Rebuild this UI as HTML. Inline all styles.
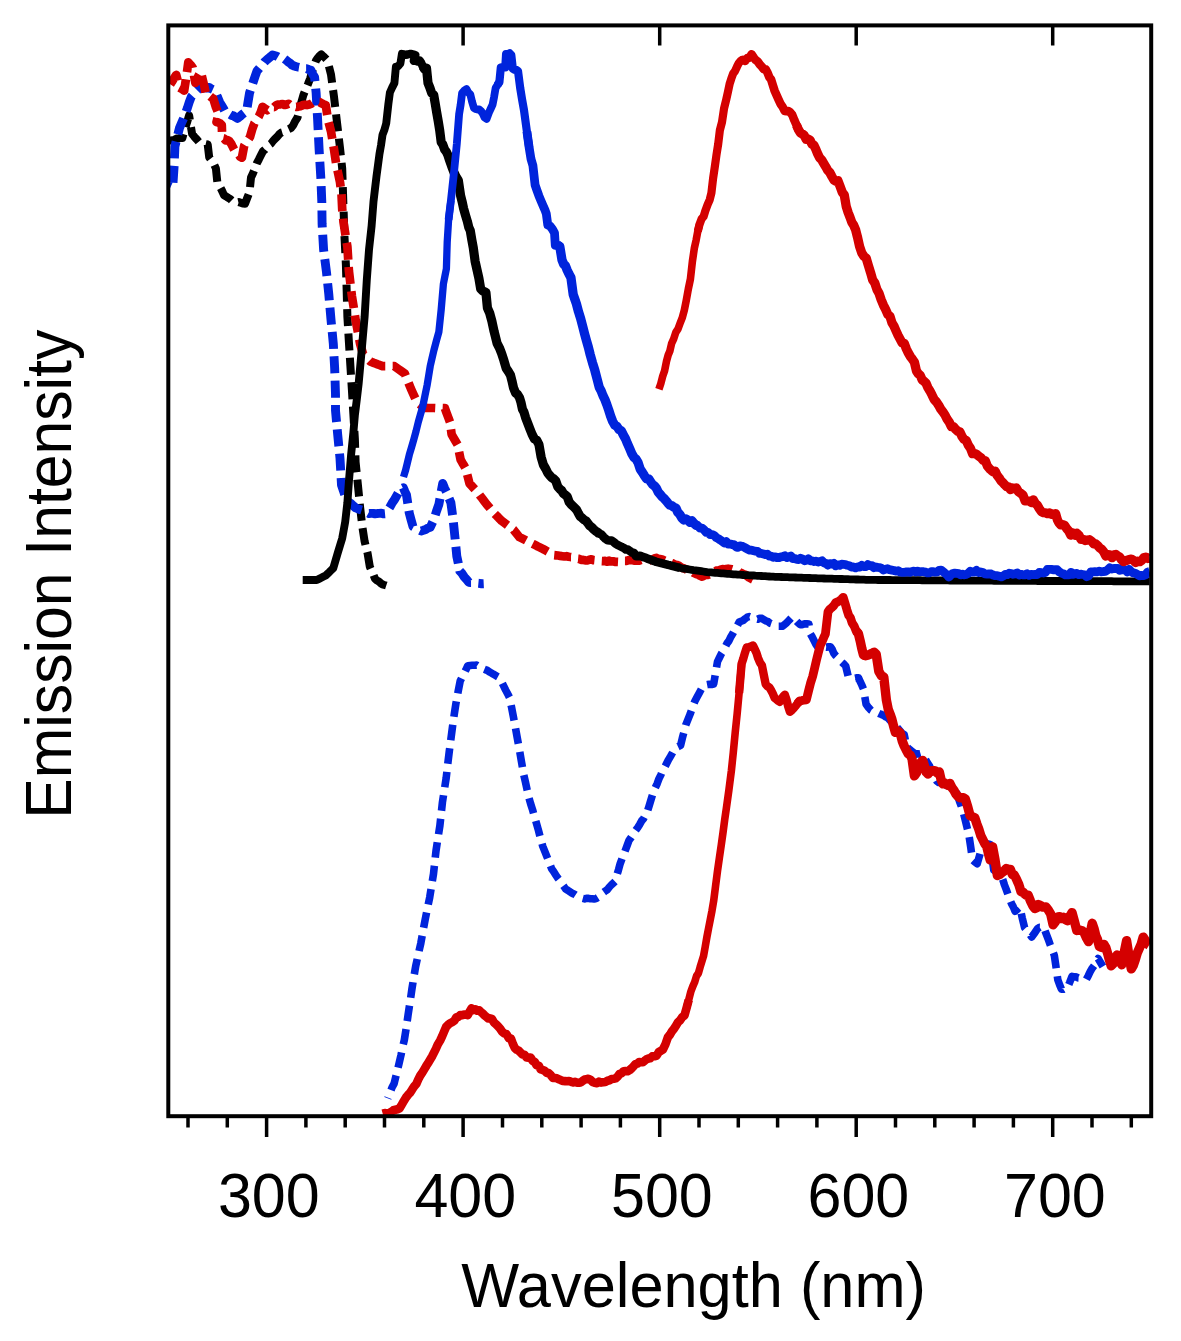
<!DOCTYPE html>
<html><head><meta charset="utf-8"><title>Emission spectra</title>
<style>html,body{margin:0;padding:0;background:#fff}svg{display:block}</style></head>
<body>
<svg width="1181" height="1341" viewBox="0 0 1181 1341">
<rect width="1181" height="1341" fill="#fff"/>
<defs><clipPath id="plot"><rect x="168.3" y="25.4" width="982.9" height="1090.8"/></clipPath></defs>
<g fill="none" stroke-linejoin="round" clip-path="url(#plot)">
<path d="M168.3 140.4 L170.3 140.4 L172.3 140.3 L174.3 139.8 L176.4 138.6 L178.4 138.5 L180.4 137.8 L182.4 137.9 L184.6 129.8 L186.9 122.8 L189.1 115.3 L190.6 125.0 L192.1 133.8 L194.3 136.7 L196.6 139.2 L198.8 141.8 L201.0 143.1 L203.2 143.4 L205.5 144.0 L207.7 144.5 L209.2 157.4 L211.4 160.3 L213.7 163.7 L215.9 168.4 L217.4 182.9 L219.6 186.2 L221.9 190.5 L224.1 195.3 L226.2 196.5 L228.3 197.9 L230.4 199.2 L232.5 201.2 L234.6 202.4 L236.7 202.6 L238.8 202.1 L240.8 202.8 L242.9 203.6 L245.0 203.7 L247.2 198.0 L249.5 192.2 L251.0 177.5 L253.0 173.3 L254.9 168.6 L256.9 163.1 L258.9 159.3 L260.9 155.2 L262.9 151.3 L264.9 149.6 L266.9 147.1 L268.9 145.1 L271.0 143.6 L273.1 140.9 L275.1 138.7 L277.2 136.8 L279.3 134.2 L281.3 132.6 L283.3 132.0 L285.2 131.5 L287.2 129.7 L289.2 128.8 L291.2 127.8 L293.3 125.1 L295.4 120.8 L297.5 117.5 L299.5 109.6 L301.4 102.0 L303.4 95.0 L305.6 89.6 L307.9 84.3 L310.1 78.6 L312.1 71.7 L314.1 66.0 L316.1 60.3 L317.8 58.0 L319.6 55.8 L321.3 54.4 L323.3 56.3 L325.3 58.1 L327.3 60.3 L329.1 67.1 L331.0 74.5 L332.5 85.8 L334.0 96.8 L335.5 109.6 L337.0 122.4 L338.5 135.2 L340.0 147.9 L342.2 168.5 L342.9 189.4 L343.7 213.4 L344.4 235.0 L345.9 264.9 L346.7 291.7 L347.4 316.9 L348.9 342.1 L350.4 366.0 L351.9 389.7 L353.4 414.6 L354.9 439.5 L355.6 462.2 L357.9 484.9 L360.1 507.1 L362.3 526.4 L364.6 541.3 L366.1 547.4 L367.6 553.4 L369.8 566.7 L371.5 570.6 L373.3 574.5 L375.0 578.8 L376.9 580.4 L378.8 581.5 L380.6 583.1 L382.5 584.4 L384.4 585.0 L386.2 585.5 L388.0 586.1 L389.9 586.6" stroke="#000000" stroke-width="8.0" stroke-dasharray="17 7.4" stroke-dashoffset="-1.5"/>
<path d="M168.3 186.0 L170.5 186.9 L172.7 187.9 L174.2 164.8 L174.9 146.5 L177.2 137.0 L179.4 128.3 L181.4 123.4 L183.4 118.7 L185.4 113.5 L187.4 108.0 L189.3 102.0 L191.3 96.7 L193.2 94.6 L195.1 92.4 L196.9 90.8 L198.8 88.9 L200.9 88.2 L203.0 88.2 L205.0 87.7 L207.1 88.0 L209.2 87.4 L211.2 88.8 L213.2 89.7 L215.2 91.1 L217.4 96.8 L219.7 102.3 L221.7 105.5 L223.6 108.7 L225.6 112.8 L227.6 113.5 L229.6 114.2 L231.6 115.4 L233.6 115.9 L235.6 117.2 L237.6 118.4 L239.8 116.6 L242.1 114.5 L244.3 112.8 L246.5 111.7 L248.0 102.3 L249.5 93.2 L251.3 87.6 L253.2 82.0 L255.0 76.6 L256.9 71.2 L258.8 68.9 L260.6 66.8 L262.5 64.7 L264.4 62.1 L266.4 60.2 L268.4 58.5 L270.5 56.8 L272.5 54.9 L274.5 55.6 L276.4 56.0 L278.4 57.2 L280.3 57.2 L282.3 57.1 L284.3 58.8 L286.3 60.3 L288.2 62.0 L290.2 63.3 L292.2 65.2 L294.2 66.0 L296.5 66.7 L298.9 67.3 L300.9 67.6 L302.9 67.6 L304.9 68.7 L306.9 68.7 L308.9 69.6 L310.9 70.3 L312.8 74.2 L314.6 77.3 L316.1 92.6 L317.6 119.3 L319.1 149.3 L320.9 179.0 L321.8 202.0 L322.1 224.0 L323.6 249.8 L326.5 272.3 L328.8 294.3 L331.0 319.6 L333.3 343.6 L334.7 369.1 L335.5 394.4 L335.5 410.4 L337.7 434.6 L340.0 458.4 L341.5 485.0 L343.2 490.0 L345.0 495.3 L346.7 500.4 L348.9 502.2 L351.1 503.7 L353.4 505.9 L355.6 507.9 L357.5 508.6 L359.4 509.4 L361.3 509.9 L363.3 510.5 L365.2 511.3 L367.1 512.5 L369.0 513.5 L371.1 513.4 L373.1 513.4 L375.1 513.9 L377.2 513.5 L379.2 513.4 L381.3 513.2 L383.3 513.9 L385.4 513.7 L387.6 510.5 L389.9 507.0 L392.1 503.1 L394.4 499.7 L396.4 496.2 L398.4 492.7 L400.4 489.2 L403.3 487.8 L404.9 491.6 L406.5 495.0 L409.3 513.2 L411.1 519.9 L413.0 526.6 L415.1 527.8 L417.1 528.9 L419.1 530.0 L421.2 531.0 L423.4 530.3 L425.7 529.5 L427.9 528.1 L430.2 527.3 L432.1 523.3 L434.0 519.2 L436.4 511.5 L438.9 504.3 L440.8 493.9 L442.7 483.5 L444.5 488.0 L446.4 491.7 L448.6 497.3 L450.9 502.8 L453.1 519.2 L455.4 541.5 L456.8 556.3 L458.3 563.3 L459.8 571.1 L462.1 573.6 L464.3 577.0 L466.6 579.5 L468.8 582.3 L470.9 582.6 L473.1 582.6 L475.2 583.0 L477.3 583.2 L479.4 583.4 L481.6 583.8 L483.7 583.7" stroke="#0024dc" stroke-width="8.9" stroke-dasharray="17 7.4" stroke-dashoffset="14.5"/>
<path d="M168.3 86.0 L169.9 84.9 L172.0 81.7 L174.1 78.1 L176.2 74.9 L177.8 81.0 L179.3 87.7 L181.8 89.0 L184.2 90.6 L186.5 75.6 L188.3 62.3 L190.5 64.8 L192.7 67.6 L195.4 82.9 L197.2 78.5 L199.0 74.8 L200.8 71.8 L202.6 79.3 L204.4 86.5 L206.1 95.4 L207.9 95.4 L209.7 96.0 L211.5 97.5 L213.3 98.7 L216.0 107.4 L218.7 113.9 L216.5 122.1 L218.3 122.5 L220.0 123.4 L221.8 125.2 L222.2 138.1 L224.0 138.5 L225.8 140.4 L227.6 140.0 L229.4 141.2 L231.2 143.8 L233.0 147.4 L234.8 150.7 L236.6 152.2 L238.4 154.3 L240.1 156.7 L241.9 157.7 L244.2 145.7 L246.1 142.6 L248.1 140.0 L250.0 137.0 L252.2 129.2 L254.4 123.2 L256.6 120.0 L258.9 116.3 L260.7 112.3 L262.5 106.8 L264.9 108.5 L267.4 110.2 L269.6 108.4 L271.9 107.0 L274.1 107.1 L276.3 105.1 L278.4 104.5 L280.5 104.3 L282.6 104.0 L284.7 105.0 L286.8 104.5 L288.6 103.8 L290.5 105.5 L292.4 106.2 L294.2 106.2 L296.3 106.9 L298.5 106.6 L300.6 106.2 L302.8 105.1 L304.9 104.7 L307.0 105.1 L309.2 104.6 L311.3 103.7 L313.4 102.3 L315.5 102.4 L317.7 102.1 L319.8 102.2 L321.8 103.4 L323.8 104.5 L325.8 105.1 L328.0 120.0 L329.5 125.5 L331.0 131.4 L332.5 140.4 L334.0 149.3 L336.2 164.2 L338.1 173.1 L340.0 182.1 L341.5 194.0 L342.2 209.0 L343.5 222.0 L345.4 234.4 L347.4 246.8 L348.9 270.7 L350.4 283.4 L351.9 296.1 L353.8 308.0 L355.6 319.9 L357.9 331.9 L360.1 343.8 L361.6 349.0 L363.1 354.2 L365.0 356.1 L366.8 357.9 L368.6 359.8 L370.5 361.7 L372.5 362.4 L374.5 363.2 L376.5 363.9 L378.5 364.7 L380.5 365.4 L382.5 366.2 L384.5 366.2 L386.5 366.2 L388.4 366.2 L390.4 366.2 L392.4 366.2 L394.4 366.2 L396.5 367.7 L398.6 369.2 L400.6 370.6 L402.7 372.1 L404.8 373.6 L406.8 378.6 L408.8 383.5 L410.8 388.5 L412.8 393.0 L414.8 397.4 L416.8 401.9 L418.6 403.4 L420.5 404.9 L422.4 406.4 L424.2 407.9 L426.3 407.9 L428.3 408.0 L430.4 408.0 L432.5 408.0 L434.5 408.0 L436.6 408.1 L438.7 408.1 L440.8 408.1 L442.8 408.2 L444.9 408.2 L446.6 412.9 L448.4 417.7 L450.1 422.4 L451.6 434.3 L453.6 437.8 L455.6 441.2 L457.6 444.7 L459.1 452.2 L460.6 459.7 L462.3 462.7 L464.1 465.6 L465.8 468.6 L467.6 476.1 L469.5 483.5 L471.6 485.8 L473.6 488.0 L475.6 490.2 L477.7 492.5 L479.9 495.5 L482.2 498.4 L484.4 501.4 L486.7 504.4 L488.6 506.6 L490.4 508.8 L492.2 511.1 L494.1 513.3 L496.0 515.2 L497.9 517.0 L499.7 518.9 L501.6 520.8 L503.6 522.3 L505.6 523.8 L507.6 525.3 L509.5 526.8 L511.5 528.3 L513.5 529.8 L515.5 532.3 L517.5 534.7 L519.5 537.2 L521.5 538.2 L523.5 539.2 L525.5 540.2 L527.4 541.2 L529.4 542.2 L531.4 543.2 L533.4 544.2 L535.4 545.2 L537.3 546.2 L539.3 547.1 L541.3 548.1 L543.3 549.1 L545.4 550.3 L547.5 551.5 L549.6 552.7 L551.7 553.9 L553.8 555.1 L555.9 555.3 L558.1 555.5 L560.2 555.9 L562.3 556.2 L564.4 556.5 L566.6 556.2 L568.7 556.7 L570.8 557.1 L572.9 557.1 L574.9 557.8 L577.0 558.7 L579.1 558.9 L581.1 559.8 L583.2 559.9 L585.2 560.3 L587.2 560.5 L589.3 559.7 L591.3 559.3 L593.4 560.1 L595.4 560.3 L597.4 560.3 L599.3 560.9 L601.3 561.1 L603.2 561.2 L605.2 560.9 L607.1 561.7 L609.1 560.6 L611.0 561.5 L613.0 561.3 L614.9 561.8 L616.9 561.9 L618.8 562.0 L620.8 562.6 L622.8 561.9 L624.9 560.8 L626.9 560.8 L628.9 560.0 L631.0 560.2 L633.0 560.2 L635.0 560.7 L637.0 560.5 L639.1 560.7 L641.1 560.0 L643.0 560.1 L644.9 559.8 L646.8 560.0 L648.8 560.5 L650.7 560.0 L652.6 559.6 L654.5 558.5 L656.4 557.9 L658.4 559.4 L660.5 559.0 L662.5 559.7 L664.5 560.7 L666.5 561.7 L668.6 561.9 L670.6 562.6 L672.6 563.4 L674.7 564.5 L676.7 564.9 L678.6 565.6 L680.5 567.0 L682.4 568.1 L684.3 568.5 L686.2 569.5 L688.1 570.3 L690.0 571.2 L691.9 571.4 L693.9 572.9 L696.0 574.0 L698.0 574.5 L700.1 575.8 L702.1 576.6 L704.1 575.6 L706.1 574.7 L708.2 574.8 L710.2 573.9 L712.2 572.1 L714.2 571.9 L716.3 570.7 L718.3 570.5 L720.4 569.7 L722.4 569.2 L724.3 569.4 L726.2 569.0 L728.1 568.7 L730.0 569.0 L731.9 569.3 L733.8 569.9 L735.7 570.8 L737.6 570.5 L739.5 572.2 L741.4 573.1 L743.3 574.2 L745.2 574.7 L747.2 576.0 L749.1 577.5 L751.0 578.6 L752.9 579.5" stroke="#d40000" stroke-width="8.7" stroke-dasharray="17 7.4" stroke-dashoffset="-2.6"/>
<path d="M302.7 580.0 L304.7 580.0 L306.7 580.0 L308.7 580.0 L310.8 580.0 L312.8 580.0 L314.8 580.0 L316.8 580.0 L319.1 578.9 L321.3 577.8 L323.6 576.6 L325.8 575.5 L327.7 573.6 L329.6 571.8 L331.4 570.0 L333.3 568.1 L335.5 560.7 L337.7 553.2 L339.9 545.8 L342.2 538.3 L343.7 530.1 L345.2 521.9 L347.4 502.5 L348.9 481.6 L351.1 454.7 L353.4 432.4 L354.9 415.0 L356.8 399.6 L358.6 384.1 L360.1 367.6 L361.6 351.2 L363.1 334.0 L364.6 316.9 L366.8 279.7 L369.0 249.8 L371.6 226.0 L373.5 201.5 L375.0 188.8 L376.5 176.2 L378.0 165.0 L379.5 153.8 L381.0 145.4 L382.5 134.9 L384.4 129.8 L386.2 123.5 L388.4 103.7 L389.9 92.5 L392.1 87.6 L394.4 83.1 L395.9 66.6 L398.1 66.3 L400.4 63.5 L401.9 53.8 L403.8 54.6" stroke="#000000" stroke-width="7.9"/>
<path d="M401.9 53.8 L403.8 54.6 L405.7 54.7 L407.6 54.5 L409.6 54.0 L411.5 54.0 L413.4 54.5 L415.3 55.2 L413.8 60.9 L415.8 60.8 L417.7 61.5 L419.7 60.6 L421.2 62.9 L422.7 66.3 L424.6 69.2" stroke="#000000" stroke-width="8.4"/>
<path d="M422.7 66.3 L424.6 69.2 L426.5 68.1 L428.0 83.0 L429.9 87.7 L431.7 93.1 L433.7 94.9 L435.2 103.5 L436.7 112.6 L438.2 121.0 L439.7 130.2 L441.2 142.2 L442.9 144.7 L444.7 149.7 L446.4 151.8 L447.9 155.1 L449.4 159.7 L451.6 166.1 L453.9 172.2 L456.1 176.9 L458.3 180.2 L460.6 195.6 L462.1 201.6 L463.6 208.5 L465.5 215.2 L467.3 221.2 L468.8 227.3 L470.3 230.7 L471.8 239.8 L473.3 247.8 L475.1 261.2 L477.0 269.8 L478.9 278.2 L480.7 288.9 L482.4 290.7 L484.2 291.7 L485.9 292.3 L487.4 307.8 L489.6 312.8 L491.9 321.3 L494.1 331.4 L495.6 337.4 L497.1 343.3 L499.4 347.8 L501.6 353.4 L503.9 360.4 L506.1 368.1 L508.3 371.4 L510.5 375.1 L512.0 381.1 L513.5 387.8 L515.5 392.8 L517.5 394.4 L519.5 397.6 L521.0 402.5 L522.5 409.4 L524.0 412.2 L525.5 417.3 L527.7 423.1 L529.9 428.9 L532.1 434.4 L534.4 438.9 L536.6 440.0 L538.9 444.3 L541.1 456.9 L543.3 464.6 L545.6 468.6 L547.8 473.1 L549.8 475.5 L551.8 477.8 L553.8 478.9 L555.8 481.0 L557.8 486.8 L559.8 489.1 L561.6 490.5 L563.5 493.6 L565.4 495.0 L567.2 496.5 L569.2 502.1 L571.2 504.5 L573.2 506.3 L575.0 508.2 L576.7 510.0 L578.5 513.5 L580.2 516.5 L582.1 517.9 L584.0 519.8 L585.9 520.8 L587.8 523.1 L589.7 525.7 L591.6 527.1 L593.5 529.2 L595.4 530.8 L597.4 532.1 L599.5 533.8" stroke="#000000" stroke-width="9.2"/>
<path d="M597.4 532.1 L599.5 533.8 L601.5 534.6 L603.5 536.9 L605.5 538.8 L607.6 540.3 L609.6 540.5 L611.6 540.6 L613.7 542.0 L615.7 543.8 L617.7 544.9 L619.8 546.0 L621.8 547.1 L623.8 547.9 L625.9 549.5 L627.9 549.5 L629.9 551.1 L631.9 552.5 L634.0 553.0 L636.0 556.3 L638.0 556.3 L640.1 555.8 L642.1 556.6 L644.2 557.3 L646.2 558.1 L648.2 558.9 L650.3 559.6 L652.3 560.4 L654.4 561.1 L656.4 561.9 L658.4 562.4 L660.3 562.9 L662.3 563.4 L664.2 563.9 L666.2 564.4 L668.1 564.9 L670.1 565.3 L672.0 565.8 L674.0 566.3 L675.9 566.8 L677.9 567.3 L679.8 567.8" stroke="#000000" stroke-width="8.6"/>
<path d="M677.9 567.3 L679.8 567.8 L681.8 568.3 L683.8 568.6 L685.7 568.9 L687.7 569.2 L689.6 569.5 L691.6 569.8 L693.5 570.1 L695.5 570.3 L697.4 570.6 L699.4 570.9 L701.3 571.2 L703.3 571.5 L705.2 571.8 L707.2 572.1 L709.2 572.3 L711.3 572.4 L713.3 572.6 L715.3 572.8 L717.3 572.9 L719.4 573.1 L721.4 573.3 L723.4 573.4 L725.4 573.6 L727.5 573.8 L729.5 573.9 L731.5 574.1 L733.5 574.3 L735.6 574.4 L737.6 574.6 L739.6 574.7 L741.6 574.8 L743.5 575.0 L745.5 575.1 L747.5 575.2 L749.5 575.3 L751.4 575.4 L753.4 575.5 L755.4 575.7 L757.4 575.8 L759.4 575.9 L761.3 576.0 L763.3 576.1 L765.3 576.2 L767.3 576.4 L769.2 576.5 L771.2 576.6 L773.2 576.7 L775.2 576.8 L777.3 576.8 L779.3 576.9 L781.3 577.0 L783.4 577.1 L785.4 577.1 L787.4 577.2 L789.5 577.3 L791.5 577.3 L793.5 577.4 L795.6 577.5 L797.6 577.6 L799.6 577.6 L801.6 577.7 L803.7 577.8 L805.7 577.9 L807.7 577.9 L809.8 578.0 L811.8 578.1 L813.8 578.1 L815.9 578.2 L817.9 578.3 L819.9 578.4 L822.0 578.4 L824.0 578.5 L826.0 578.6 L828.0 578.6 L830.0 578.7 L832.0 578.7 L834.0 578.8 L836.0 578.9 L838.0 578.9 L840.0 579.0 L842.0 579.0 L844.0 579.1 L846.0 579.2 L848.0 579.2 L850.0 579.3 L852.0 579.4 L854.0 579.4 L856.0 579.5 L858.0 579.5 L860.0 579.6 L862.0 579.7 L864.0 579.7 L866.0 579.8 L868.0 579.8 L870.0 579.9 L872.0 579.9 L874.0 579.9 L876.0 579.9 L878.0 580.0 L880.0 580.0 L882.0 580.0 L884.0 580.0 L886.0 580.0 L888.0 580.0 L890.0 580.0 L892.0 580.1 L894.0 580.1 L896.0 580.1 L898.0 580.1 L900.0 580.1 L902.0 580.1 L904.0 580.1 L906.0 580.1 L908.0 580.2 L910.0 580.2 L912.0 580.2 L914.0 580.2 L916.0 580.2 L918.0 580.2 L920.0 580.2 L922.0 580.3 L924.0 580.3 L926.0 580.3 L928.0 580.3 L930.0 580.3 L932.0 580.3 L934.0 580.3 L936.0 580.4 L938.0 580.4 L940.0 580.4 L942.0 580.4 L944.0 580.4 L946.0 580.4 L948.0 580.4 L950.0 580.5 L952.0 580.5 L954.0 580.5 L956.0 580.5 L958.0 580.5 L960.0 580.5 L962.0 580.5 L964.0 580.6 L966.0 580.6 L968.0 580.6 L970.0 580.6 L972.0 580.6 L974.0 580.6 L976.0 580.6 L978.0 580.6 L980.0 580.7 L982.0 580.7 L984.0 580.7 L986.0 580.7 L988.0 580.7 L990.0 580.7 L992.0 580.7 L994.0 580.8 L996.0 580.8 L998.0 580.8 L1000.0 580.8 L1002.0 580.8 L1004.0 580.8 L1006.0 580.8 L1008.0 580.8 L1010.0 580.8 L1012.0 580.8 L1014.0 580.9 L1016.0 580.9 L1018.0 580.9 L1019.9 580.9 L1021.9 580.9 L1023.9 580.9 L1025.9 580.9 L1027.9 580.9 L1029.9 580.9 L1031.9 580.9 L1033.9 580.9 L1035.9 580.9 L1037.9 581.0 L1039.9 581.0 L1041.9 581.0 L1043.9 581.0 L1045.9 581.0 L1047.9 581.0 L1049.9 581.0 L1051.9 581.0 L1053.9 581.0 L1055.9 581.0 L1057.8 581.0 L1059.8 581.0 L1061.8 581.0 L1063.8 581.1 L1065.8 581.1 L1067.8 581.1 L1069.8 581.1 L1071.8 581.1 L1073.8 581.1 L1075.8 581.1 L1077.8 581.1 L1079.8 581.1 L1081.8 581.1 L1083.8 581.1 L1085.8 581.1 L1087.8 581.2 L1089.8 581.2 L1091.8 581.2 L1093.7 581.2 L1095.7 581.2 L1097.7 581.2 L1099.7 581.2 L1101.7 581.2 L1103.7 581.2 L1105.7 581.2 L1107.7 581.2 L1109.7 581.2 L1111.7 581.2 L1113.7 581.3 L1115.7 581.3 L1117.7 581.3 L1119.7 581.3 L1121.7 581.3 L1123.7 581.3 L1125.7 581.3 L1127.7 581.3 L1129.7 581.3 L1131.6 581.3 L1133.6 581.3 L1135.6 581.3 L1137.6 581.4 L1139.6 581.4 L1141.6 581.4 L1143.6 581.4 L1145.6 581.4 L1147.6 581.4 L1149.6 581.4" stroke="#000000" stroke-width="7.8"/>
<path d="M403.5 477.0 L405.6 470.2 L407.5 462.3 L409.3 454.8 L411.6 447.1 L413.8 439.5 L416.1 431.0 L418.3 422.0 L420.5 414.2 L422.7 406.7 L424.9 395.9 L427.2 384.7 L428.7 375.7 L430.2 366.3 L432.0 358.4 L433.9 350.2 L436.4 340.8 L438.9 331.7 L441.2 309.5 L443.4 283.9 L444.9 276.3 L446.4 268.8 L447.2 242.3 L448.6 219.8 L450.9 200.6" stroke="#0024dc" stroke-width="7.3"/>
<path d="M448.6 219.8 L450.9 200.6 L452.4 186.8 L453.9 173.3 L456.8 144.1 L459.1 114.2 L460.6 105.0 L462.1 93.0 L464.3 90.5 L466.5 89.1 L468.4 92.7 L470.3 94.4 L472.1 101.9 L474.0 108.1 L475.7 109.0 L477.5 109.5 L479.2 109.4 L480.9 110.9 L482.7 113.4 L484.4 117.3 L486.6 118.9 L488.9 112.6 L490.8 108.5 L492.6 104.6 L494.1 96.9 L495.6 88.1 L497.5 84.9 L499.4 82.0" stroke="#0024dc" stroke-width="7.8"/>
<path d="M497.5 84.9 L499.4 82.0 L500.8 67.6 L503.1 67.1 L505.3 67.3 L506.1 54.0 L507.8 54.3 L509.6 53.3 L511.3 55.1 L512.8 68.7 L514.5 69.7 L516.3 69.8 L518.0 71.0 L520.2 88.0 L522.1 99.7 L524.0 110.3 L526.9 131.5 L529.2 147.8" stroke="#0024dc" stroke-width="8.2"/>
<path d="M526.9 131.5 L529.2 147.8 L531.0 159.1 L532.9 165.6 L535.1 185.0 L537.0 190.5 L538.9 195.8 L541.1 201.2 L543.3 206.3 L544.8 209.6 L546.3 213.7 L547.8 225.1 L550.0 226.1 L552.3 229.0 L554.5 232.9 L555.3 245.4 L557.5 245.0 L559.8 246.4" stroke="#0024dc" stroke-width="8.8"/>
<path d="M557.5 245.0 L559.8 246.4 L562.0 260.0 L563.7 264.1 L565.5 265.9 L567.2 270.3 L569.0 274.0 L570.9 277.4 L573.2 294.5 L574.8 299.1 L576.4 303.7 L578.5 311.7 L580.6 318.4 L582.7 326.4 L584.6 333.8 L586.5 340.8 L588.4 347.4 L590.3 355.0 L592.5 362.8 L594.8 370.2 L597.0 378.6 L599.2 387.2 L601.1 390.7 L603.0 395.6 L604.9 399.5 L606.8 404.5 L608.7 410.0 L610.6 416.0 L612.7 421.5 L614.8 425.1 L617.0 426.5 L619.1 429.6 L621.2 430.6 L623.3 434.9 L625.4 438.6 L627.5 443.7 L629.6 448.4 L631.8 453.6 L633.9 457.3 L636.0 459.0 L638.1 462.6 L640.2 469.1 L642.4 472.4 L644.5 475.8 L646.6 478.8 L648.7 478.8 L650.6 481.7 L652.5 484.5 L654.4 485.8 L656.4 488.2 L658.3 492.2 L660.2 494.4 L662.1 496.7 L664.0 498.4 L666.0 500.7 L668.0 503.2 L669.9 505.1 L671.9 505.7 L673.9 507.2 L675.9 508.0 L677.8 512.3 L679.8 514.4 L681.8 517.9 L683.8 519.9 L685.9 518.9 L687.9 520.2 L689.9 522.3 L692.0 520.9 L694.0 523.4 L696.0 525.1 L698.0 525.9" stroke="#0024dc" stroke-width="9.3"/>
<path d="M696.0 525.1 L698.0 525.9 L700.1 528.2 L702.1 528.2 L704.1 529.9 L706.2 532.4 L708.2 532.5 L710.2 534.6 L712.2 534.6 L714.3 535.5 L716.3 537.6 L718.3 538.6 L720.4 540.1 L722.4 541.6 L724.4 543.1 L726.3 541.7 L728.3 544.0 L730.2 543.8 L732.2 544.5 L734.1 544.6 L736.1 546.9 L738.0 547.4 L740.0 545.8 L741.9 546.2 L743.9 547.0 L745.8 548.1 L747.8 549.3 L749.8 550.2 L751.7 550.2 L753.7 550.7 L755.6 551.1 L757.6 551.4 L759.5 553.3 L761.5 553.4 L763.4 553.9 L765.4 554.7 L767.3 554.2 L769.3 556.2 L771.2 556.1 L773.2 557.4 L775.2 556.8 L777.1 557.7 L779.1 557.5 L781.0 556.8 L783.0 556.6 L784.9 555.7 L786.9 557.5 L788.8 556.8 L790.8 556.0 L792.7 558.5 L794.7 558.4 L796.6 559.4 L798.6 559.5 L800.6 558.2 L802.5 559.0 L804.5 560.8 L806.4 560.3 L808.4 558.8 L810.3 560.8 L812.3 560.9 L814.2 561.5 L816.2 561.2 L818.1 562.1 L820.1 561.5 L822.0 560.7 L824.0 562.8 L826.0 563.5 L827.9 565.1 L829.9 563.6 L831.8 564.1 L833.8 563.3 L835.7 565.8 L837.7 564.8 L839.6 565.4 L841.6 564.2 L843.5 564.4 L845.5 564.6 L847.4 565.3 L849.4 565.7 L851.5 567.0 L853.5 567.0 L855.6 567.9 L857.6 566.8 L859.7 567.1 L861.8 565.3 L863.8 566.7 L865.9 566.5 L867.9 564.5 L870.0 565.7 L871.9 565.6 L873.9 567.7 L875.8 567.0 L877.7 567.4 L879.6 567.6 L881.5 568.4 L883.5 570.0 L885.4 569.2 L887.5 568.7 L889.6 569.7 L891.8 570.1 L893.9 570.5 L896.0 571.2 L898.1 570.7 L900.1 572.0 L902.0 572.4 L904.0 572.4 L905.9 572.0 L907.9 571.8 L909.8 572.3 L911.8 571.5 L913.7 571.2 L915.7 572.0 L917.6 571.1 L919.6 571.8 L921.5 571.6 L923.5 571.7 L925.5 572.1 L927.4 572.8 L929.4 572.9 L931.3 571.7 L933.3 571.6 L935.2 572.2 L937.2 571.9 L939.1 570.3 L941.1 570.1 L943.0 571.5 L945.0 573.3 L946.9 574.7 L948.9 577.0 L950.9 574.8 L952.8 573.5 L954.8 573.1 L956.7 573.3 L958.7 573.6 L960.6 574.9 L962.6 574.1 L964.5 574.8 L966.5 574.4 L968.4 573.2 L970.4 571.2 L972.3 572.0 L974.3 572.1 L976.4 570.4 L978.5 572.5 L980.6 571.9 L982.8 572.5 L984.9 573.9 L987.0 574.1 L989.0 573.8 L991.1 574.0 L993.1 575.1 L995.2 575.7 L997.2 575.6 L999.2 576.2 L1001.2 576.9 L1003.2 576.0 L1005.2 574.5 L1007.2 574.7 L1009.2 573.2 L1011.1 573.6 L1013.1 574.3 L1015.1 573.9 L1017.1 572.9 L1019.1 575.0 L1021.1 574.3 L1023.1 574.9 L1025.1 574.8 L1027.1 573.8 L1029.2 575.3 L1031.2 574.3 L1033.2 574.6 L1035.2 574.4 L1037.3 574.6 L1039.3 572.4 L1041.3 572.7 L1043.4 573.0 L1045.4 572.5 L1047.3 569.5 L1049.2 569.3 L1051.1 569.3 L1053.0 569.8 L1055.0 569.7 L1057.1 569.6 L1059.1 571.8 L1061.2 573.1 L1063.2 573.7 L1065.2 574.8 L1067.1 574.8 L1069.1 574.8 L1071.0 572.3 L1073.0 574.4 L1074.9 573.6 L1076.9 573.5 L1078.8 574.6 L1080.8 574.2 L1082.7 574.5 L1084.7 574.8 L1086.6 576.7 L1088.6 575.9 L1090.7 572.0 L1092.8 571.8 L1094.9 571.7 L1097.1 571.8 L1099.2 571.1 L1101.3 571.8 L1103.4 571.5 L1105.5 571.3 L1107.7 569.9 L1109.8 567.8 L1111.9 569.0 L1114.0 568.5 L1115.9 568.4 L1117.8 568.4 L1119.7 570.3 L1121.6 568.3 L1123.5 569.8 L1125.4 570.0 L1127.3 572.1 L1129.2 569.4 L1131.2 571.6 L1133.3 572.9 L1135.3 573.3 L1137.4 574.6 L1139.4 575.8 L1141.4 575.5 L1143.5 575.6 L1145.5 574.9 L1147.6 572.1 L1149.6 571.5" stroke="#0024dc" stroke-width="8.8"/>
<path d="M658.9 389.2 L660.8 383.6 L662.7 376.2 L664.6 370.7 L666.5 361.3 L668.2 354.9 L669.9 350.9 L671.6 343.5 L673.7 338.9 L675.8 332.4 L677.9 329.2 L680.0 323.5 L682.2 317.9 L684.3 310.2 L686.3 300.3 L688.4 288.6 L690.4 279.1 L692.4 261.4 L694.4 247.8 L696.1 240.3 L697.8 231.3 L699.5 224.5" stroke="#d40000" stroke-width="7.6"/>
<path d="M697.8 231.3 L699.5 224.5 L701.5 219.1 L703.6 216.4 L705.6 210.1 L707.7 204.3 L709.7 199.8 L711.4 193.0 L713.1 178.4 L714.8 166.9 L716.5 154.8 L718.2 144.0 L719.9 130.1 L722.0 122.1 L724.1 108.2 L726.2 99.7 L727.9 92.2 L729.6 84.1 L731.3 78.7 L733.2 73.4 L735.1 70.9 L737.0 66.7 L738.9 62.9 L741.0 60.6 L743.1 59.9" stroke="#d40000" stroke-width="8.2"/>
<path d="M741.0 60.6 L743.1 59.9 L745.2 60.9 L747.4 58.0 L749.5 57.7 L751.6 54.3 L753.6 57.4 L755.7 60.1 L757.7 61.5 L759.8 64.5 L761.8 66.6 L763.7 69.1 L765.6 69.2 L767.5 72.6 L769.4 77.4 L771.1 79.5 L772.8 85.0 L774.5 90.4 L776.5 94.9 L778.5 99.4 L780.6 104.0 L782.6 106.9 L784.6 110.9 L786.5 111.1 L788.4 111.1 L790.3 112.4 L792.2 114.7 L794.3 120.1 L796.5 125.1 L798.6 130.0" stroke="#d40000" stroke-width="8.6"/>
<path d="M796.5 125.1 L798.6 130.0 L800.5 132.9 L802.4 134.0 L804.3 135.5 L806.2 139.3 L808.1 139.0 L810.0 140.0 L811.9 144.2 L813.8 145.0 L815.7 149.0 L817.6 153.6 L819.6 157.7 L821.7 159.9 L823.7 163.3 L825.8 166.8 L827.8 170.4 L829.8 172.5 L831.9 176.5 L833.9 180.0 L836.0 181.3 L838.0 180.8 L840.1 186.4 L842.2 192.2 L844.3 195.1 L846.2 206.3 L848.1 212.4 L850.0 217.2 L851.9 222.5 L853.8 225.4 L855.7 230.1 L857.7 238.0 L859.6 246.6 L861.8 253.0 L864.0 256.4 L866.2 258.1 L868.4 265.5 L870.5 272.3 L872.7 280.1 L874.8 283.0 L876.9 289.4 L879.0 293.2 L881.1 299.5 L883.4 305.1 L885.6 309.4 L887.9 314.6 L889.9 316.1 L892.0 322.9 L894.0 326.2 L896.1 331.0 L898.1 335.4 L900.1 339.1 L902.2 342.9 L904.2 343.3 L906.3 348.7 L908.3 352.9 L910.3 356.4 L912.3 359.1 L914.4 362.1 L916.4 370.8 L918.4 373.8 L920.3 375.5 L922.2 379.9 L924.1 381.3 L926.0 383.1 L927.9 387.6 L929.8 390.7 L932.0 394.9 L934.2 399.5 L936.5 402.0 L938.7 405.3 L940.8 409.2 L942.9 411.9 L945.0 415.0 L947.2 419.3 L949.3 422.2 L951.4 426.7 L953.5 426.6 L955.6 429.3 L957.8 431.3 L959.9 431.8 L962.0 436.5 L964.1 439.4 L966.2 440.4 L968.3 445.2 L970.5 448.4 L972.6 453.7 L974.7 453.5 L976.8 454.5 L978.9 456.3 L981.0 457.8 L983.1 460.2 L985.3 460.8 L987.4 466.1 L989.5 468.7 L991.4 470.4 L993.3 472.0 L995.2 471.2 L997.2 475.4 L999.1 477.8 L1001.0 480.9 L1002.9 482.7 L1004.8 484.8 L1006.7 486.7 L1008.6 486.8 L1010.5 489.7 L1012.4 488.0 L1014.3 488.5 L1016.2 487.9 L1018.4 491.7 L1020.6 493.2 L1022.9 494.9 L1025.1 500.9 L1027.1 500.7 L1029.2 501.1 L1031.2 502.4 L1033.3 499.9 L1035.3 503.3 L1037.3 505.2 L1039.3 508.6 L1041.4 511.6 L1043.4 512.7 L1045.4 512.8 L1047.4 513.6 L1049.5 512.9 L1051.5 514.4 L1053.6 514.2 L1055.6 513.6 L1057.3 519.6 L1059.0 523.0 L1060.7 524.9 L1062.7 524.7 L1064.7 525.4 L1066.8 528.7 L1068.8 531.1 L1070.8 535.1 L1072.8 533.2 L1074.9 535.1 L1076.9 533.4 L1079.0 535.4 L1081.0 539.3 L1083.1 539.3 L1085.2 540.5 L1087.3 540.1 L1089.5 539.7 L1091.6 541.2 L1093.7 543.8 L1095.7 544.0 L1097.7 545.6 L1099.8 548.0 L1101.8 549.4 L1103.8 551.9 L1105.8 556.0 L1107.9 554.7 L1109.9 554.9 L1112.0 557.7 L1114.0 554.9 L1115.9 554.5 L1117.8 555.9 L1119.7 557.0 L1121.6 559.9 L1123.5 561.6 L1125.4 560.8 L1127.3 560.3 L1129.2 559.5 L1131.3 559.1 L1133.4 560.3 L1135.6 562.5 L1137.7 561.2 L1139.8 561.6 L1141.9 560.1 L1143.8 557.8 L1145.8 557.2 L1147.7 558.5 L1149.6 558.3" stroke="#d40000" stroke-width="9.3"/>
<path d="M387.8 1098.4 L389.9 1093.2 L392.0 1087.5 L394.1 1083.6 L395.8 1076.7 L397.5 1069.9 L399.2 1062.9 L400.9 1055.5 L402.6 1047.2 L404.3 1040.1 L406.2 1028.2 L408.1 1014.8 L410.0 1002.3 L411.9 989.1 L413.8 977.3 L415.7 966.1 L417.4 958.4 L419.1 950.7 L420.8 943.3 L423.1 930.6 L425.4 918.4 L427.5 908.0 L429.7 897.4 L431.6 885.7 L433.5 873.8 L436.0 850.9 L437.9 838.3 L439.9 825.6 L442.4 802.5 L444.3 790.1 L446.2 777.9 L447.7 764.5 L449.2 752.0 L450.9 739.0 L452.6 726.1 L454.2 714.7 L455.9 703.6 L458.0 692.3 L460.2 681.0 L462.1 677.1 L464.0 673.6 L465.9 669.8 L467.8 665.7 L470.0 665.5 L472.2 665.3 L474.5 665.2 L476.7 665.1 L478.8 666.5 L480.9 667.2 L483.0 668.7 L485.2 669.6 L487.3 670.4 L489.4 671.9 L491.4 673.0 L493.4 674.2 L495.5 675.3 L497.5 676.7 L499.5 677.8 L501.5 681.5 L503.6 685.8 L505.6 690.0 L507.7 693.8 L509.7 697.9 L511.4 706.6 L513.1 715.2 L514.8 724.2 L517.1 737.0 L519.4 749.5 L521.5 761.8 L523.7 774.6 L525.4 781.9 L527.1 789.8 L528.8 797.3 L530.7 804.0 L532.6 809.9 L534.5 816.6 L536.4 823.1 L538.5 830.5 L540.6 838.8 L542.7 846.1 L544.9 851.6 L547.2 857.3 L549.4 862.8 L551.6 868.8 L553.6 871.5 L555.6 874.7 L557.6 877.8 L559.6 880.2 L561.6 883.3 L563.6 886.0 L565.6 889.0 L567.5 890.1 L569.4 891.4 L571.3 892.8 L573.2 893.7 L575.1 894.7 L577.0 896.0 L578.9 897.0 L580.8 898.0 L582.7 898.4 L584.6 898.9 L586.5 898.3 L588.5 898.4 L590.4 898.8 L592.3 898.7 L594.2 899.0 L596.1 898.6 L598.0 897.4 L599.9 895.4 L601.8 893.9 L603.7 892.2 L605.6 890.8 L607.5 889.5 L609.4 887.0 L611.3 885.0 L613.2 883.2 L615.1 881.4 L616.8 875.4 L618.5 869.8 L620.2 863.6 L622.4 857.7 L624.7 852.1 L626.9 846.1 L629.1 840.2 L631.2 837.4 L633.3 834.2 L635.5 830.6 L637.6 827.8 L639.7 824.4 L641.8 820.6 L643.5 818.7 L645.2 815.5 L646.9 813.0 L649.0 806.3 L651.1 799.3 L653.2 792.7 L655.1 788.1 L657.1 783.8 L659.0 778.6 L661.0 774.6 L662.9 770.1 L664.8 767.1 L666.7 763.3 L668.6 759.6 L670.5 756.4 L672.4 753.0 L674.3 749.4 L676.4 747.5 L678.5 746.5 L680.6 745.4 L682.3 738.3 L684.0 732.0 L685.7 725.1 L687.9 719.6 L690.2 713.9 L692.4 707.6 L694.6 701.8 L696.8 697.6 L699.0 693.4 L701.3 689.2 L703.5 685.4 L705.5 685.0 L707.6 684.6 L709.6 684.2 L711.7 684.4 L713.7 684.0 L715.6 672.6 L717.5 661.6 L719.4 657.8 L721.3 653.8 L723.2 650.9 L725.1 647.2 L727.0 643.4 L728.9 640.9 L730.9 636.7 L733.0 633.3 L735.0 629.6 L737.1 626.1 L739.1 622.1 L741.1 621.3 L743.1 620.5 L745.2 618.7 L747.2 617.2 L749.2 616.6 L751.3 617.4 L753.4 617.8 L755.5 618.7 L757.7 619.2 L759.8 618.2 L761.9 618.4 L764.0 619.7 L766.1 621.0 L768.2 621.7 L770.4 623.4 L772.5 624.1 L774.6 625.7 L776.5 626.1 L778.4 626.3 L780.3 626.3 L782.2 626.3 L784.2 624.9 L786.3 623.1 L788.3 621.0 L790.4 618.8 L792.4 616.8 L794.3 618.5 L796.2 620.8 L798.1 622.8 L800.0 624.6 L802.2 624.6 L804.5 623.9 L806.7 623.7 L808.9 624.0 L810.2 633.5 L812.1 636.7 L814.0 640.4 L815.9 644.3 L817.8 647.1 L819.9 647.0 L822.0 646.5 L824.1 646.9 L826.3 647.2 L828.4 646.8 L830.5 646.8 L832.2 649.4 L833.9 653.4 L835.6 655.6 L837.6 657.5 L839.6 659.9 L841.7 662.1 L843.7 663.9 L845.7 666.0 L848.3 676.8 L850.3 678.0 L852.3 678.0 L854.4 678.3 L856.4 677.9 L858.4 677.7 L860.1 681.3 L861.8 685.0 L863.5 689.1 L866.1 704.3 L868.6 707.7 L871.1 710.3 L873.2 711.5 L875.3 712.2 L877.5 712.7 L879.6 713.7 L881.7 714.6 L883.8 715.4 L885.8 716.9 L887.9 718.0 L889.9 720.2 L892.0 722.5 L894.0 724.7 L896.0 726.2 L898.1 728.5 L900.1 731.1 L902.2 733.5 L904.2 734.6 L906.7 746.9 L908.9 748.8 L911.2 750.7 L913.4 752.4 L915.6 754.3 L917.4 753.7 L919.2 754.1 L920.9 753.6 L922.7 754.5 L925.0 758.4 L927.3 762.7 L929.6 766.2 L931.4 770.6 L933.2 773.8 L935.1 777.8 L936.9 781.2 L938.8 782.5 L940.7 782.5 L942.6 783.0 L944.5 784.0 L946.4 785.2 L948.3 785.9 L950.2 787.8 L952.1 788.2 L954.0 789.2 L955.9 790.6 L957.7 795.9 L959.5 801.3 L961.2 805.8 L963.0 811.3 L965.0 819.1 L966.9 826.8 L968.9 835.0 L970.7 847.0 L972.5 859.8 L974.9 862.0 L977.2 863.7 L979.5 855.7 L981.9 847.2 L984.0 846.7 L986.0 845.6 L988.1 844.0 L990.2 844.4 L992.0 857.7 L993.8 870.1 L995.6 871.2 L997.3 872.2 L999.1 874.0 L1000.9 874.7 L1002.7 879.4 L1004.5 885.0 L1006.2 889.4 L1008.0 894.4 L1009.8 899.3 L1011.5 903.6 L1013.3 906.9 L1015.1 911.3 L1017.5 909.1 L1019.9 907.0 L1022.2 917.8 L1024.6 927.7 L1026.4 929.7 L1028.2 931.8 L1029.9 934.5 L1031.7 937.0 L1033.7 934.3 L1035.7 931.3 L1037.7 928.4 L1039.7 927.2 L1041.6 927.3 L1043.6 926.8 L1045.9 933.1 L1048.3 939.4 L1050.3 945.0 L1052.3 950.2 L1054.3 955.3 L1056.0 966.7 L1057.8 979.8 L1059.6 984.8 L1061.4 989.1 L1063.4 989.2 L1065.3 988.0 L1067.3 988.1 L1069.7 982.4 L1072.0 976.4 L1074.0 977.0 L1076.1 976.9 L1078.1 977.9 L1080.2 978.0 L1082.2 978.1 L1084.3 978.8 L1086.3 979.4 L1088.3 975.7 L1090.2 971.7 L1092.2 968.2 L1094.2 965.5 L1096.1 962.2 L1098.1 958.6 L1100.5 962.5 L1102.9 966.5" stroke="#0024dc" stroke-width="7.6" stroke-dasharray="15.6 8.1" stroke-dashoffset="-8.9"/>
<path d="M382.7 1113.7 L384.8 1113.1 L386.9 1113.4 L389.0 1113.4 L391.2 1111.9 L393.3 1110.3 L395.4 1109.8 L397.5 1109.3 L399.6 1108.3 L401.8 1104.6 L403.9 1100.9 L406.0 1097.5 L408.1 1094.8 L410.1 1092.8 L412.2 1089.4 L414.2 1086.4 L416.3 1084.0 L418.3 1079.4 L420.3 1075.5 L422.3 1072.6 L424.4 1069.1 L426.4 1065.7 L428.4 1062.7 L430.3 1059.4 L432.2 1056.2 L434.1 1052.3 L436.0 1048.6 L438.0 1044.1 L440.1 1040.6 L442.1 1036.4 L444.2 1031.4 L446.2 1026.8 L448.2 1024.7 L450.3 1023.1 L452.3 1022.2 L454.4 1020.6 L456.4 1017.2 L458.3 1016.9 L460.2 1015.1 L462.1 1015.3 L464.0 1014.6 L465.9 1014.6 L467.8 1015.2 L469.7 1011.4 L471.6 1008.3 L473.5 1010.1 L475.4 1009.3 L477.3 1010.7 L479.2 1010.3 L480.9 1012.0 L482.6 1013.4 L484.3 1015.1 L486.2 1016.7 L488.1 1018.5 L490.0 1018.4 L491.9 1018.9 L493.9 1022.4 L496.0 1024.2 L498.0 1026.3 L500.1 1028.6 L502.1 1031.7 L504.3 1033.5 L506.6 1034.2 L508.8 1038.2 L511.0 1038.6 L512.9 1043.9 L514.8 1048.0 L516.7 1049.7 L518.6 1050.6 L520.5 1052.5 L522.4 1054.4 L524.4 1054.7 L526.5 1057.4 L528.5 1057.6 L530.6 1057.6 L532.6 1060.8 L534.6 1061.8 L536.6 1065.2 L538.7 1065.6 L540.7 1069.4 L542.7 1070.0 L544.7 1070.8 L546.8 1072.9 L548.8 1073.1 L550.9 1075.3 L552.9 1077.9 L554.9 1078.0 L556.9 1078.3 L559.0 1079.3 L561.0 1080.2 L563.0 1081.0 L565.0 1081.1 L567.1 1081.3 L569.1 1081.0 L571.2 1081.8 L573.2 1082.4 L575.1 1081.7 L577.0 1082.7 L578.9 1082.6 L580.8 1082.4 L582.7 1080.9 L584.6 1079.6 L586.5 1079.3 L588.4 1078.7 L590.5 1079.8 L592.6 1081.9 L594.8 1082.8 L596.9 1083.2 L599.0 1081.6 L601.1 1082.6 L603.2 1082.3 L605.3 1082.0 L607.5 1080.8 L609.6 1080.3 L611.7 1079.1 L613.8 1078.8 L615.7 1078.4 L617.6 1076.6 L619.6 1073.9 L621.5 1073.4 L623.5 1071.3 L625.5 1071.1 L627.6 1071.3 L629.6 1070.1 L631.6 1068.4 L633.5 1066.3 L635.4 1064.2 L637.3 1063.7 L639.2 1062.0 L641.0 1062.2 L642.9 1062.2 L644.7 1060.7 L646.5 1059.3 L648.4 1058.6 L650.2 1058.3 L652.3 1056.4 L654.4 1056.2 L656.5 1055.7 L658.7 1052.2 L660.8 1050.8 L662.9 1049.5 L665.4 1044.4 L667.9 1037.3 L669.9 1034.8 L672.0 1031.2 L674.0 1028.8 L676.1 1025.4 L678.1 1022.1 L680.2 1020.2 L682.4 1016.9 L684.5 1015.4 L686.6 1007.8 L688.7 1000.0" stroke="#d40000" stroke-width="8.6"/>
<path d="M686.6 1007.8 L688.7 1000.0 L690.8 991.8 L692.7 986.6 L694.6 982.3 L696.5 976.0 L698.4 973.3 L700.1 967.2 L701.8 961.6 L703.5 956.2 L705.2 946.9 L706.9 937.0 L708.6 928.1 L710.3 919.4 L712.0 910.7 L713.7 900.7 L715.6 885.8 L717.5 870.9 L719.4 857.7 L721.3 844.7 L723.0 832.6 L724.7 819.8 L726.4 808.0 L728.9 789.9 L731.4 770.5 L733.3 752.4 L735.2 732.6 L737.2 713.4 L739.1 693.0 L741.6 663.8" stroke="#d40000" stroke-width="7.6"/>
<path d="M739.1 693.0 L741.6 663.8 L743.3 658.6 L745.0 652.7 L746.7 647.5 L748.8 647.1 L750.9 646.3 L753.0 645.5 L754.7 649.1 L756.4 652.8 L758.1 658.1 L760.0 662.6 L761.9 665.4 L763.8 674.8 L765.7 684.3 L767.4 686.2 L769.1 687.1 L770.8 689.8 L772.7 693.4 L774.6 697.8 L776.3 699.1 L778.0 700.7 L779.7 701.8 L781.4 699.7 L783.1 696.6 L784.8 694.7 L786.5 699.6 L788.2 706.5 L789.9 711.8 L791.8 710.2 L793.7 708.1 L795.6 706.0 L797.5 703.5 L799.7 700.8" stroke="#d40000" stroke-width="8.4"/>
<path d="M797.5 703.5 L799.7 700.8 L802.0 700.6 L804.2 700.0 L806.4 699.8 L808.5 691.1 L810.6 682.9 L812.7 676.2 L814.6 668.2 L816.5 660.0 L818.4 652.4 L820.3 645.4 L822.0 641.7 L823.7 637.7 L825.4 634.0 L828.0 611.8 L829.9 609.1 L831.8 607.6 L833.7 605.8 L835.6 602.7 L837.5 602.0 L839.4 600.9 L841.3 599.3 L843.2 597.3 L845.1 603.6 L847.0 610.1 L848.7 615.4 L850.4 617.6 L852.1 622.8 L854.2 626.1 L856.3 631.2 L858.4 633.6" stroke="#d40000" stroke-width="8.8"/>
<path d="M856.3 631.2 L858.4 633.6 L860.1 640.6 L861.8 648.5 L863.5 655.2 L865.6 655.7 L867.7 655.2 L869.9 654.3 L872.0 653.3 L874.1 652.2 L876.2 654.2 L878.8 671.3 L881.3 675.6 L883.8 677.1 L886.4 700.2 L888.2 709.2 L890.1 714.1 L891.9 719.3 L893.6 726.1 L895.4 732.4 L897.8 731.0 L900.2 733.1 L902.2 740.9 L904.1 745.7 L906.1 749.8 L908.1 753.5 L910.0 754.8 L912.0 758.6 L914.4 775.9 L916.5 772.9 L918.5 766.1 L920.6 762.7 L922.7 760.4 L924.5 765.9 L926.2 772.2 L928.1 774.0 L929.9 770.8 L931.8 771.2 L933.7 770.6 L935.6 771.1 L937.4 773.1 L939.3 771.9 L941.0 779.3 L942.8 783.9 L944.6 783.0 L946.3 784.5 L948.1 785.5 L949.9 783.4 L951.9 787.6 L953.9 790.3 L955.9 794.0 L957.8 796.3 L959.7 797.5 L961.5 797.8 L963.4 797.7 L965.3 798.9 L967.7 806.6 L970.1 815.7 L972.5 816.8 L974.8 817.8 L976.8 823.8 L978.8 829.2 L980.8 835.7 L982.8 839.6 L984.7 843.5 L986.7 846.4 L988.5 853.7 L990.2 859.9 L992.6 846.8 L995.0 859.7 L997.4 875.5 L999.8 874.5 L1002.1 872.5 L1004.2 870.9 L1006.2 868.6 L1008.3 869.6 L1010.4 869.4 L1012.4 874.6 L1014.3 875.1 L1016.3 878.9 L1018.7 884.2 L1021.1 891.8 L1022.9 892.1 L1024.7 894.0 L1026.4 895.3 L1028.2 895.3 L1030.6 901.2 L1032.9 905.9 L1034.8 908.5 L1036.6 907.9 L1038.5 904.6 L1040.4 905.3 L1042.3 907.0 L1044.1 907.2 L1046.0 906.9 L1048.3 910.1 L1050.7 913.9 L1053.1 924.8 L1055.4 921.7 L1057.8 916.9 L1059.7 916.7 L1061.6 918.4 L1063.5 917.3 L1065.4 919.6 L1067.3 920.6 L1069.7 916.5 L1072.0 912.6 L1074.4 921.3 L1076.8 930.5 L1078.6 929.8 L1080.3 930.3 L1082.1 930.8 L1083.9 932.2 L1086.2 937.4 L1088.6 941.6 L1090.4 932.4 L1092.2 923.3 L1094.0 928.5 L1095.8 935.6 L1097.5 939.5 L1099.3 946.4 L1101.7 947.4 L1104.0 944.5 L1105.8 947.4 L1107.6 953.3 L1109.4 959.9 L1111.2 965.8 L1113.2 963.8 L1115.1 959.2 L1117.1 954.9 L1119.4 959.8 L1121.8 964.7 L1124.2 952.5 L1126.6 940.6 L1128.9 955.5 L1131.3 968.9 L1133.3 965.4 L1135.2 960.0 L1137.2 953.2 L1139.2 948.7 L1141.2 944.0 L1143.2 937.1 L1145.2 940.3 L1147.1 943.9 L1149.1 945.2" stroke="#d40000" stroke-width="9.4"/>
</g>
<rect x="168.3" y="25.4" width="982.9" height="1090.8" fill="none" stroke="#000" stroke-width="4"/>
<path d="M266.6 1116V1137M266.6 25.4V45.4M463.1 1116V1137M463.1 25.4V45.4M659.7 1116V1137M659.7 25.4V45.4M856.2 1116V1137M856.2 25.4V45.4M1052.7 1116V1137M1052.7 25.4V45.4M188.0 1116V1127.5M227.3 1116V1127.5M305.9 1116V1127.5M345.2 1116V1127.5M384.5 1116V1127.5M423.8 1116V1127.5M502.5 1116V1127.5M541.8 1116V1127.5M581.1 1116V1127.5M620.4 1116V1127.5M699.0 1116V1127.5M738.3 1116V1127.5M777.6 1116V1127.5M816.9 1116V1127.5M895.5 1116V1127.5M934.8 1116V1127.5M974.1 1116V1127.5M1013.4 1116V1127.5M1092.0 1116V1127.5M1131.3 1116V1127.5" stroke="#000" stroke-width="3.5" fill="none"/>
<g font-family="'Liberation Sans', Arial, sans-serif" font-size="61" fill="#000" text-anchor="middle">
<text transform="translate(268.8 1216.8) scale(1 1.046)">300</text>
<text transform="translate(465.3 1216.8) scale(1 1.046)">400</text>
<text transform="translate(661.9 1216.8) scale(1 1.046)">500</text>
<text transform="translate(858.4 1216.8) scale(1 1.046)">600</text>
<text transform="translate(1054.9 1216.8) scale(1 1.046)">700</text>
<text transform="translate(693.6 1307.2) scale(1.0057 1.03)">Wavelength (nm)</text>
<text transform="translate(71 574.2) rotate(-90) scale(0.995 1.05)">Emission Intensity</text>
</g>
</svg>
</body></html>
